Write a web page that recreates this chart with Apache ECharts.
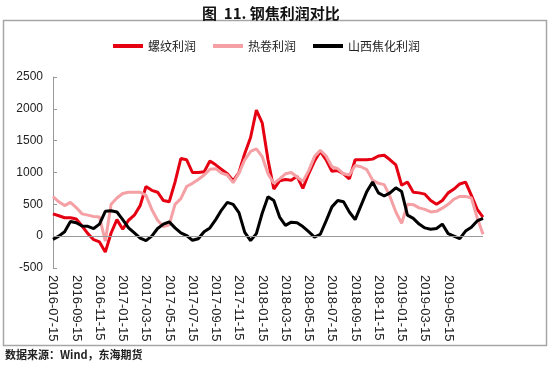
<!DOCTYPE html>
<html>
<head>
<meta charset="utf-8">
<script src="https://cdn.jsdelivr.net/npm/echarts@6/dist/echarts.min.js"></script>
<style>
  html, body { margin: 0; padding: 0; background: #fff; }
  #chart { width: 550px; height: 369px; }
</style>
</head>
<body>
<div id="chart"></div>
<script>
// half-monthly dates, 2016-07-15 .. 2019-08-15
const categories = [];
for (let y = 2016, m = 7; y < 2019 || m <= 8; ) {
  const mm = String(m).padStart(2, "0");
  categories.push(y + "-" + mm + "-15");
  if (y === 2019 && m === 8) break;
  const last = new Date(y, m, 0).getDate();
  categories.push(y + "-" + mm + "-" + last);
  m++;
  if (m > 12) { m = 1; y++; }
}

// labelled dates on the x axis (every 2 months)
const xTickLabels = [
  "2016-07-15", "2016-09-15", "2016-11-15", "2017-01-15", "2017-03-15", "2017-05-15",
  "2017-07-15", "2017-09-15", "2017-11-15", "2018-01-15", "2018-03-15", "2018-05-15",
  "2018-07-15", "2018-09-15", "2018-11-15", "2019-01-15", "2019-03-15", "2019-05-15"
];

const yTicks = [-500, 0, 500, 1000, 1500, 2000, 2500];

// 螺纹利润
const rebar = [
  350, 320, 290, 290, 270, 160, 40, -55, -90, -250,
  50, 260, 110, 250, 330, 480, 780, 720, 690, 560,
  540, 850, 1220, 1200, 1000, 1000, 1010, 1180, 1120, 1050,
  980, 870, 1000, 1300, 1550, 1980, 1780, 1200, 740, 870,
  890, 880, 940, 750, 980, 1180, 1330, 1200, 1020, 1030,
  980, 900, 1200, 1200, 1200, 1210, 1260, 1270, 1200, 1120,
  800, 850, 690, 680, 660, 560, 500, 560, 680, 740,
  820, 850, 640, 420, 300
];

// 热卷利润
const hrc = [
  620, 540, 480, 530, 450, 350, 330, 310, 300, -80,
  500, 600, 670, 690, 690, 690, 640, 420, 250, 150,
  180, 500, 590, 780, 830, 890, 960, 1050, 1060, 990,
  960, 840, 990, 1200, 1330, 1370, 1250, 980, 830, 900,
  980, 1000, 930, 860, 1030, 1250, 1350, 1260, 1090, 1060,
  980, 960, 1110, 1090, 1045, 880, 830, 810, 620, 380,
  200, 500, 495, 445, 420, 380, 390, 440, 500, 580,
  625, 625, 600, 290, 30
];

// 山西焦化利润
const coke = [
  -50, 0, 70, 230, 210, 160, 155, 120, 190, 390,
  400, 380, 260, 130, 50, -30, -70, 0, 120, 190,
  225, 130, 50, 10, -65, -40, 70, 130, 260, 410,
  530, 500, 370, 60, -70, 40, 360, 620, 560, 300,
  170, 220, 210, 150, 70, -15, 30, 240, 460, 560,
  540, 380, 260, 480, 700, 850, 680, 630, 680, 760,
  700, 330, 280, 190, 130, 110, 120, 190, 40, 0,
  -40, 80, 140, 240, 280
];

const chart = echarts.init(document.getElementById("chart"));

const lineSeries = (name, data, color) => ({
  name: name,
  type: "line",
  data: data,
  showSymbol: false,
  symbol: "none",
  lineStyle: { width: 3, color: color },
  itemStyle: { color: color }
});

const option = {
  animation: false,
  textStyle: { fontFamily: "Arial, 'Liberation Sans', 'Noto Sans CJK SC'" },
  title: {
    text: "图  11. 钢焦利润对比",
    left: 197,
    top: 1,
    textStyle: { fontSize: 15, fontWeight: "bold", color: "#111", fontFamily: "'Noto Sans CJK SC'" }
  },
  legend: {
    left: 108,
    top: 35,
    icon: "rect",
    itemWidth: 30,
    itemHeight: 4,
    itemGap: 17,
    textStyle: { fontSize: 12, color: "#222", fontFamily: "'Noto Sans CJK SC'" },
    data: ["螺纹利润", "热卷利润", "山西焦化利润"]
  },
  graphic: [
    {
      type: "rect",
      shape: { x: 3.5, y: 20.5, width: 543, height: 325 },
      style: { fill: "none", stroke: "#a6a6a6", lineWidth: 1.5 },
      silent: true
    },
    {
      type: "text",
      left: 5,
      top: 349,
      style: {
        text: "数据来源：Wind，东海期货",
        fontSize: 11,
        fontWeight: "bold",
        fill: "#222",
        fontFamily: "'Noto Sans CJK SC'"
      }
    }
  ],
  grid: { left: 53, right: 67, top: 77, bottom: 101, containLabel: false },
  xAxis: {
    type: "category",
    data: categories,
    boundaryGap: false,
    axisLine: { show: false, onZero: false },
    axisTick: { show: false },
    axisLabel: {
      interval: (i, v) => xTickLabels.indexOf(v) >= 0,
      rotate: -90,
      fontSize: 13,
      color: "#222",
      margin: 7
    }
  },
  yAxis: {
    type: "value",
    min: yTicks[0],
    max: yTicks[yTicks.length - 1],
    interval: 500,
    axisLine: { show: true, lineStyle: { color: "#999" } },
    axisTick: { show: true, inside: true, length: 4, lineStyle: { color: "#999" } },
    axisLabel: { fontSize: 12, color: "#222", margin: 10, formatter: (v) => String(v) },
    splitLine: { show: false }
  },
  series: [
    Object.assign(lineSeries("螺纹利润", rebar, "#e50012"), {
      markLine: {
        silent: true,
        symbol: "none",
        label: { show: false },
        lineStyle: { color: "#999", width: 1, type: "solid" },
        data: [{ yAxis: 0 }]
      }
    }),
    lineSeries("热卷利润", hrc, "#f4a0a4"),
    lineSeries("山西焦化利润", coke, "#000000")
  ]
};

chart.setOption(option);
</script>
</body>
</html>
